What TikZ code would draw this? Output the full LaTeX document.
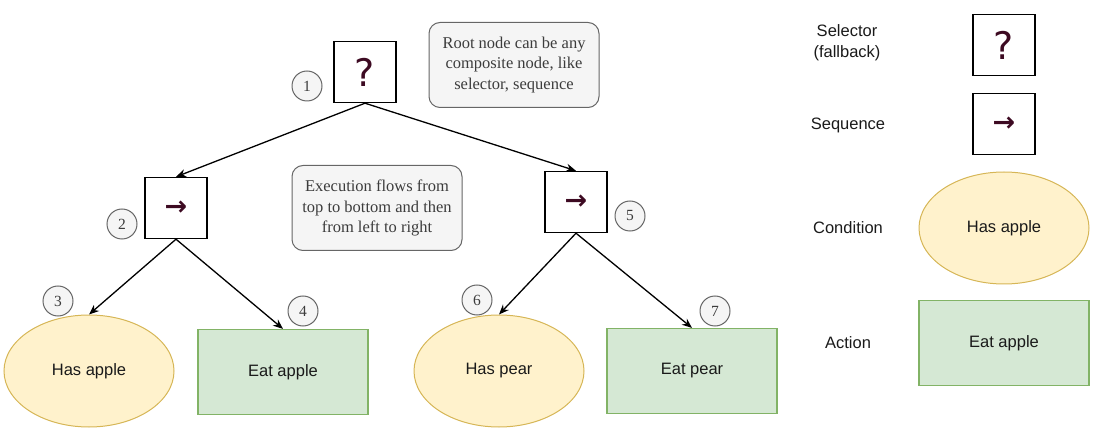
\documentclass[tikz,border=0pt]{standalone}
\usepackage{fontspec}
\setmainfont{Liberation Sans}
\newfontfamily\notefont{Liberation Serif}
\newfontfamily\symfont{DejaVu Sans}
\usetikzlibrary{arrows.meta,shapes.geometric}
\definecolor{condfill}{HTML}{FFF2CC}
\definecolor{conddraw}{HTML}{D6B656}
\definecolor{actfill}{HTML}{D5E8D4}
\definecolor{actdraw}{HTML}{82B366}
\definecolor{notefill}{HTML}{F5F5F5}
\definecolor{notedraw}{HTML}{666666}
\definecolor{symcol}{HTML}{3D0A22}
\definecolor{txt}{HTML}{1A1A1A}
\tikzset{
  comp/.style={draw=black, line width=1.4pt, fill=white, minimum width=62pt, minimum height=61pt, inner sep=0pt},
  selsym/.style={font=\symfont\fontsize{38}{38}\selectfont, text=symcol},
  seqsym/.style={font=\symfont\bfseries\fontsize{27}{27}\selectfont, text=symcol},
  cond/.style={ellipse, draw=conddraw, fill=condfill, line width=1pt, minimum width=170pt, minimum height=112pt, inner sep=0pt, font=\fontsize{16.5}{19}\selectfont, text=txt},
  act/.style={rectangle, draw=actdraw, fill=actfill, line width=1.2pt, minimum width=170pt, minimum height=85pt, inner sep=0pt, font=\fontsize{16.5}{19}\selectfont, text=txt},
  note/.style={rectangle, rounded corners=11pt, draw=notedraw, fill=notefill, line width=1pt, minimum width=170pt, minimum height=85pt, align=center, font=\notefont\fontsize{16.5}{20.5}\selectfont, text=txt!85},
  num/.style={circle, draw=notedraw, fill=notefill, line width=1pt, minimum size=30pt, inner sep=0pt, font=\notefont\fontsize{15.5}{15.5}\selectfont, text=txt!85},
  lbl/.style={align=center, font=\fontsize{16.5}{21}\selectfont, text=txt},
  edge/.style={line width=1.3pt, -{Stealth[length=10pt,width=8pt]}}
}
\begin{document}
\begin{tikzpicture}[x=1pt,y=-1pt]
\useasboundingbox (0,0) rectangle (1100,438);
% tree
\node[comp, selsym] (root) at (365,72) {?};
\node[comp, seqsym] (seqA) at (176,208) {→};
\node[comp, seqsym] (seqB) at (576,202) {→};
\node[cond] (hasApple) at (89,371) {Has apple};
\node[act] (eatApple) at (283,372) {Eat apple};
\node[cond] (hasPear) at (499,371) {Has pear};
\node[act] (eatPear) at (692,371) {Eat pear};
% notes
\node[note] (note1) at (514,65) {Root node can be any\\composite node, like\\selector, sequence};
\node[note] (note2) at (377,208) {Execution flows from\\top to bottom and then\\from left to right};
% numbers
\node[num] (n1) at (307,86) {1};
\node[num] (n2) at (122,224) {2};
\node[num] (n3) at (58,301) {3};
\node[num] (n4) at (303,311) {4};
\node[num] (n5) at (630,216) {5};
\node[num] (n6) at (477,300) {6};
\node[num] (n7) at (715,311) {7};
% edges
\draw[edge] (root.south) -- (seqA.north);
\draw[edge] (root.south) -- (seqB.north);
\draw[edge] (seqA.south) -- (hasApple.north);
\draw[edge] (seqA.south) -- (eatApple.north);
\draw[edge] (seqB.south) -- (hasPear.north);
\draw[edge] (seqB.south) -- (eatPear.north);
% legend
\node[lbl] (lSel) at (847,43) {Selector\\(fallback)};
\node[comp, selsym] (kSel) at (1004,45) {?};
\node[lbl] (lSeq) at (848,125) {Sequence};
\node[comp, seqsym] (kSeq) at (1004,124) {→};
\node[lbl] (lCond) at (848,228) {Condition};
\node[cond] (kCond) at (1004,228) {Has apple};
\node[lbl] (lAct) at (848,343) {Action};
\node[act] (kAct) at (1004,343) {Eat apple};
\end{tikzpicture}
\end{document}
